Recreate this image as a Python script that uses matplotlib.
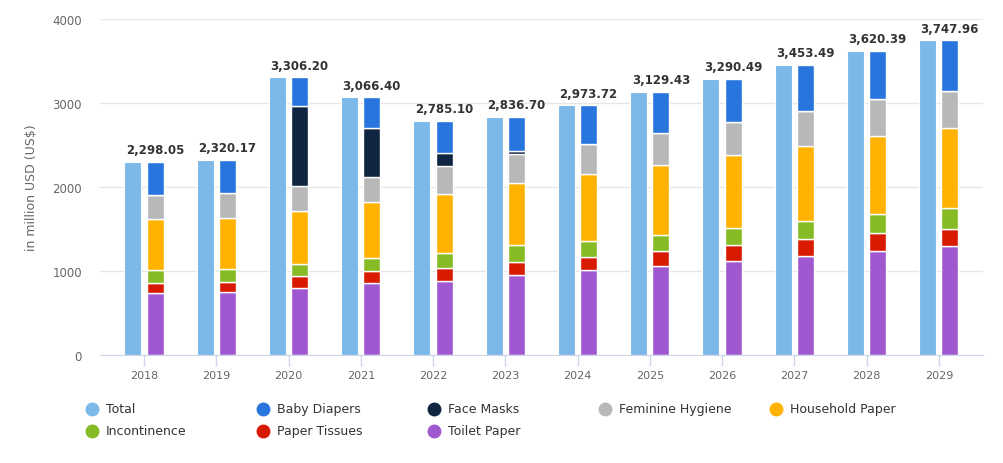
import matplotlib.pyplot as plt
from matplotlib.lines import Line2D
import numpy as np

# Values (million USD)
years = ["2018", "2019", "2020", "2021", "2022", "2023", "2024", "2025", "2026", "2027", "2028", "2029"]
total = [2298.05, 2320.17, 3306.20, 3066.40, 2785.10, 2836.70, 2973.72, 3129.43, 3290.49, 3453.49, 3620.39, 3747.96]
toilet_paper = [732, 747, 799, 855, 882, 950, 1010, 1061, 1113, 1180, 1236, 1296]
paper_tissues = [123, 123, 135, 139, 151, 151, 158, 175, 198, 199, 211, 206]
incontinence = [151, 151, 151, 158, 179, 203, 191, 194, 203, 218, 230, 246]
household_paper = [615, 612, 631, 664, 707, 742, 798, 835, 866, 890, 930, 958]
feminine_hygiene = [286, 291, 291, 298, 334, 346, 358, 374, 394, 421, 444, 441]
face_masks = [0, 0, 953, 588, 155, 32, 0, 0, 0, 0, 0, 0]
baby_diapers = [391, 396, 346, 364, 377, 413, 459, 490, 516, 545, 569, 601]

# stacking order bottom -> top
stack = [
    ("Toilet Paper", toilet_paper, "#a058d0"),
    ("Paper Tissues", paper_tissues, "#d81b00"),
    ("Incontinence", incontinence, "#86bb26"),
    ("Household Paper", household_paper, "#ffb200"),
    ("Feminine Hygiene", feminine_hygiene, "#b8b8b8"),
    ("Face Masks", face_masks, "#0f2540"),
    ("Baby Diapers", baby_diapers, "#2876dd"),
]
total_color = "#7cb9e8"

legend_order = ["Total", "Baby Diapers", "Face Masks", "Feminine Hygiene", "Household Paper",
                "Incontinence", "Paper Tissues", "Toilet Paper"]
colors = {name: c for name, _, c in stack}
colors["Total"] = total_color

fig = plt.figure(figsize=(10.04, 4.64), dpi=100)
ax = fig.add_axes([0.0996, 0.2334, 0.8794, 0.7236])

x = np.arange(len(years))
w = 0.235
ax.bar(x - 0.155, total, width=w, color=total_color, edgecolor="white", linewidth=0.8, zorder=3)

bottom = np.zeros(len(years))
for name, vals, c in stack:
    vals = np.array(vals, dtype=float)
    ax.bar(x + 0.152, vals, width=w, bottom=bottom, color=c, edgecolor="white", linewidth=1, zorder=3)
    bottom += vals

for xi, t in zip(x, total):
    ax.annotate(f"{t:,.2f}", (xi + 0.152, t), xytext=(0, 4), textcoords="offset points",
                ha="center", va="bottom", fontsize=8.5, fontweight="bold", color="#333333")

ax.set_xlim(-0.61, 11.61)
ax.set_ylim(0, 4000)
ax.set_yticks([0, 1000, 2000, 3000, 4000])
ax.set_xticks(x)
ax.set_xticklabels(years)
ax.grid(axis="y", color="#e6e6e6", linewidth=1, zorder=0)
ax.set_axisbelow(True)
for s in ["left", "right", "top"]:
    ax.spines[s].set_visible(False)
ax.spines["bottom"].set_color("#ccd6eb")
ax.spines["bottom"].set_zorder(4)
ax.tick_params(axis="x", colors="#ccd6eb", length=8, width=1, labelcolor="#666666", labelsize=8, pad=3)
ax.tick_params(axis="y", length=0, labelcolor="#666666", labelsize=8.5, pad=13)
ax.set_ylabel("in million USD (US$)", color="#666666", fontsize=9, labelpad=10)

# legend, two rows of five columns
for i, name in enumerate(legend_order):
    col, row = i % 5, i // 5
    lx = 91.6 + col * 171.2
    ly = 464 - (410 + row * 22)
    fig.add_artist(Line2D([lx / 1004], [ly / 464], marker="o", markersize=9, linestyle="none",
                          color=colors[name], transform=fig.transFigure))
    fig.text((lx + 14) / 1004, ly / 464, name, fontsize=9, color="#333333", va="center", ha="left")

fig.savefig("out.png", dpi=100)
